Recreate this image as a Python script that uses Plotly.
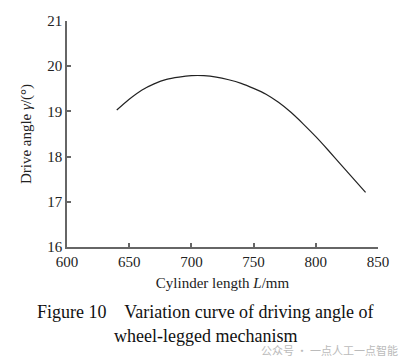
import plotly.graph_objects as go

L_mm = [640, 650, 660, 670, 680, 690, 700, 710, 720, 730, 740, 750, 760, 770, 780, 790, 800, 810, 820, 830, 840]
gamma = [19.03, 19.27, 19.47, 19.61, 19.71, 19.76, 19.79, 19.79, 19.76, 19.70, 19.62, 19.51, 19.38, 19.20, 18.98, 18.72, 18.44, 18.14, 17.83, 17.52, 17.21]

x_ticks = [600, 650, 700, 750, 800, 850]
y_ticks = [16, 17, 18, 19, 20, 21]

serif = "Liberation Serif, Times New Roman, serif"

fig = go.Figure()
fig.add_trace(go.Scatter(x=L_mm, y=gamma, mode="lines",
                         line=dict(color="#222222", width=1.2, shape="spline", smoothing=0.8),
                         showlegend=False, hoverinfo="skip"))

axis_common = dict(showline=True, linecolor="#666666", linewidth=1.6, ticks="inside", ticklen=4,
                   tickcolor="#666666", tickwidth=1.5, showgrid=False, zeroline=False,
                   tickfont=dict(family=serif, size=15, color="#222222"), mirror=False, automargin=False)

ML, MR, MT, MB = 67, 35, 21, 114
W, H = 413, 361

fig.update_layout(
    width=W, height=H,
    margin=dict(l=ML, r=MR, t=MT, b=MB),
    paper_bgcolor="white", plot_bgcolor="white",
    xaxis=dict(range=[600, 850], tickvals=x_ticks, ticktext=[str(v) for v in x_ticks],
               title=dict(text="Cylinder length <i>L</i>/mm", font=dict(family=serif, size=15, color="#222222"), standoff=9),
               **axis_common),
    yaxis=dict(range=[16, 21], tickvals=y_ticks, ticktext=[str(v) for v in y_ticks],
               title=dict(text="Drive angle <i>γ</i>/(°)", font=dict(family=serif, size=15, color="#222222"), standoff=12),
               **axis_common),
)

plot_h = H - MT - MB
plot_w = W - ML - MR
def px_to_paper(px, py):
    return (px - ML) / plot_w, (H - MB - py) / plot_h

captions = [
    ("Figure 10    Variation curve of driving angle of", 205, 312, 18, serif, "#111111", "center"),
    ("wheel-legged mechanism", 205, 336, 18, serif, "#111111", "center"),
    ("公众号 · 一点人工一点智能", 400, 350, 11, "Noto Sans CJK SC", "#bbbbbb", "right"),
]
for text, px, py, size, fam, col, anchor in captions:
    fx, fy = px_to_paper(px, py)
    fig.add_annotation(text=text, x=fx, y=fy, xref="paper", yref="paper", showarrow=False,
                       xanchor=anchor, yanchor="middle", font=dict(family=fam, size=size, color=col))

fig.write_html("out.html", config={"displayModeBar": False},
               post_script="document.body.style.margin='0';document.body.style.overflow='hidden';")
